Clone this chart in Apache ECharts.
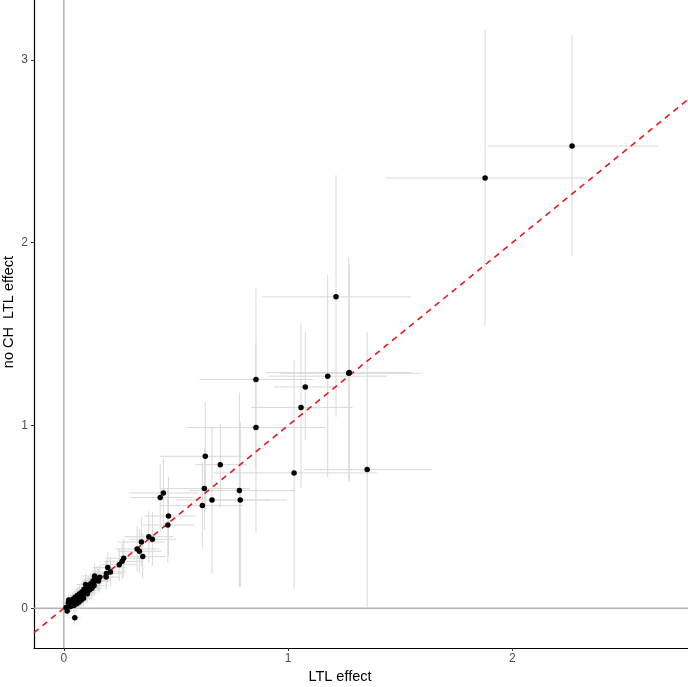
<!DOCTYPE html>
<html>
<head>
<meta charset="utf-8">
<script src="https://cdn.jsdelivr.net/npm/echarts@6/dist/echarts.min.js"></script>
<style>html,body{margin:0;padding:0;background:#fff;}#c{width:688px;height:687px;}</style>
</head>
<body>
<div id="c"></div>
<script>
// LTL effect (x) and no-CH LTL effect (y) with confidence bounds
const xs  = [0.010,0.015,0.020,0.022,0.025,0.030,0.032,0.035,0.040,0.042,0.045,0.049,0.050,0.055,0.058,0.060,0.065,0.068,0.070,0.075,0.078,0.080,0.085,0.088,0.090,0.095,0.097,0.100,0.105,0.110,0.115,0.120,0.125,0.130,0.135,0.138,0.140,0.149,0.155,0.160,0.137,0.189,0.190,0.196,0.208,
  0.247,0.260,0.267,0.327,0.337,0.352,0.346,0.379,0.395,0.430,0.444,0.464,0.467,0.618,0.627,0.631,0.661,0.698,0.783,0.787,0.857,0.857,1.027,1.058,1.077,1.177,1.214,1.271,1.273,1.353,1.879,2.267];
const ys  = [0.005,-0.015,0.030,0.045,0.020,0.010,0.040,0.025,0.050,0.030,0.015,-0.051,0.060,0.040,0.025,0.070,0.050,0.035,0.080,0.060,0.045,0.090,0.070,0.055,0.105,0.085,0.130,0.100,0.080,0.115,0.100,0.135,0.110,0.150,0.125,0.148,0.160,0.163,0.150,0.170,0.177,0.171,0.190,0.223,0.199,
  0.239,0.257,0.274,0.325,0.312,0.283,0.363,0.392,0.378,0.606,0.631,0.456,0.505,0.562,0.655,0.832,0.593,0.786,0.644,0.593,0.989,1.252,0.741,1.099,1.211,1.270,1.704,1.286,1.290,0.759,2.354,2.529];
const xLo = [-0.010,-0.005,0.000,0.000,0.005,0.010,0.010,0.012,0.015,0.018,0.020,0.025,0.025,0.030,0.030,0.030,0.035,0.038,0.040,0.045,0.045,0.045,0.050,0.055,0.050,0.055,0.055,0.060,0.065,0.065,0.070,0.075,0.080,0.080,0.085,0.085,0.090,0.095,0.100,0.105,0.080,0.130,0.130,0.130,0.145,
  0.170,0.180,0.185,0.230,0.240,0.250,0.240,0.270,0.290,0.300,0.290,0.350,0.360,0.430,0.430,0.430,0.500,0.587,0.560,0.668,0.550,0.605,0.668,0.836,0.936,0.914,0.884,0.966,0.900,1.070,1.434,1.891];
const xHi = [0.030,0.035,0.045,0.050,0.045,0.050,0.055,0.060,0.065,0.068,0.070,0.075,0.080,0.085,0.088,0.090,0.095,0.100,0.105,0.110,0.110,0.115,0.120,0.125,0.130,0.135,0.140,0.145,0.145,0.155,0.160,0.170,0.170,0.180,0.185,0.190,0.195,0.205,0.210,0.220,0.195,0.250,0.255,0.265,0.275,
  0.325,0.345,0.350,0.425,0.435,0.455,0.450,0.490,0.500,0.580,0.600,0.580,0.590,0.800,0.830,0.800,0.920,0.817,1.030,0.996,1.166,1.114,1.397,1.288,1.233,1.441,1.549,1.590,1.550,1.642,2.332,2.651];
const yLo = [-0.020,-0.045,0.000,0.010,-0.010,-0.020,0.005,-0.010,0.010,-0.005,-0.020,-0.090,0.020,0.000,-0.015,0.025,0.010,-0.005,0.035,0.015,0.000,0.040,0.025,0.010,0.050,0.035,0.070,0.045,0.030,0.060,0.045,0.075,0.055,0.090,0.065,0.085,0.095,0.100,0.085,0.100,0.110,0.100,0.115,0.140,0.120,
  0.150,0.160,0.170,0.200,0.190,0.160,0.230,0.250,0.230,0.420,0.450,0.250,0.290,0.330,0.430,0.540,0.190,0.550,0.117,0.117,0.418,0.760,0.108,0.657,0.920,0.719,1.047,0.690,0.700,0.007,1.549,1.932];
const yHi = [0.030,0.015,0.060,0.080,0.050,0.040,0.075,0.060,0.090,0.065,0.050,-0.010,0.100,0.080,0.065,0.115,0.090,0.075,0.125,0.105,0.090,0.140,0.115,0.100,0.160,0.135,0.190,0.155,0.130,0.170,0.155,0.195,0.165,0.210,0.185,0.210,0.225,0.230,0.215,0.240,0.245,0.245,0.265,0.305,0.280,
  0.330,0.355,0.380,0.450,0.435,0.410,0.500,0.535,0.525,0.790,0.820,0.660,0.720,0.800,0.880,1.130,1.000,1.010,1.180,1.020,1.450,1.750,1.360,1.558,1.512,1.823,2.370,1.920,1.880,1.512,3.167,3.136];
const xTicks = [0, 1, 2];
const yTicks = [0, 1, 2, 3];
const xTitle = 'LTL effect';
const yTitle = 'no CH  LTL effect';

const X_MIN = -0.133, X_MAX = 2.784, Y_MIN = -0.217, Y_MAX = 3.328;

const rows = xs.map((x, i) => [x, ys[i], xLo[i], xHi[i], yLo[i], yHi[i]]);
const pts = xs.map((x, i) => [x, ys[i]]);

const chart = echarts.init(document.getElementById('c'));
const FONT = '"Liberation Sans", Arial, Helvetica, sans-serif';
chart.setOption({
  animation: false,
  backgroundColor: '#ffffff',
  grid: { left: 34, right: 0, top: 0, bottom: 39, containLabel: false },
  xAxis: {
    type: 'value', min: X_MIN, max: X_MAX,
    splitLine: { show: false },
    axisLine: { show: true, onZero: false, lineStyle: { color: '#000', width: 1.2 } },
    axisTick: { show: true, length: 3, customValues: xTicks, lineStyle: { color: '#333' } },
    axisLabel: { customValues: xTicks, color: '#4d4d4d', fontSize: 12, fontFamily: FONT, margin: 5 }
  },
  yAxis: {
    type: 'value', min: Y_MIN, max: Y_MAX,
    splitLine: { show: false },
    axisLine: { show: true, onZero: false, lineStyle: { color: '#000', width: 1.2 } },
    axisTick: { show: true, length: 3, customValues: yTicks, lineStyle: { color: '#333' } },
    axisLabel: { customValues: yTicks, color: '#4d4d4d', fontSize: 12, fontFamily: FONT, margin: 6 }
  },
  graphic: [
    { type: 'text', x: 340, y: 677, style: { text: xTitle, align: 'center', verticalAlign: 'middle', fill: '#000', font: '14.5px ' + FONT } },
    { type: 'text', rotation: Math.PI / 2, x: 9, y: 312, style: { text: yTitle, align: 'center', verticalAlign: 'middle', fill: '#000', font: '14.5px ' + FONT } }
  ],
  series: [
    {
      type: 'line', silent: true, symbol: 'none', z: 1,
      data: [[0, Y_MIN], [0, Y_MAX]],
      lineStyle: { color: '#b3b3b3', width: 1.5 }
    },
    {
      type: 'line', silent: true, symbol: 'none', z: 1,
      data: [[X_MIN, 0], [X_MAX, 0]],
      lineStyle: { color: '#b3b3b3', width: 1.5 }
    },
    {
      type: 'custom', z: 2, silent: true,
      data: rows,
      dimensions: ['x', 'y', 'xlo', 'xhi', 'ylo', 'yhi'],
      encode: { x: [0, 2, 3], y: [1, 4, 5] },
      renderItem: function (params, api) {
        const x = api.value(0), y = api.value(1);
        const a = api.coord([api.value(2), y]), b = api.coord([api.value(3), y]);
        const c = api.coord([x, api.value(4)]), d = api.coord([x, api.value(5)]);
        const st = { stroke: '#d9d9d9', lineWidth: 1 };
        return { type: 'group', children: [
          { type: 'line', shape: { x1: a[0], y1: a[1], x2: b[0], y2: b[1] }, style: st },
          { type: 'line', shape: { x1: c[0], y1: c[1], x2: d[0], y2: d[1] }, style: st }
        ] };
      }
    },
    {
      type: 'line', silent: true, symbol: 'none', z: 3,
      data: [[X_MIN, X_MIN], [X_MAX, X_MAX]],
      lineStyle: { color: '#e31a1c', width: 1.6, type: [6, 5] }
    },
    {
      type: 'scatter', z: 4, silent: true,
      data: pts, symbolSize: 5.5,
      itemStyle: { color: '#000', opacity: 1 }
    }
  ]
});
</script>
</body>
</html>
